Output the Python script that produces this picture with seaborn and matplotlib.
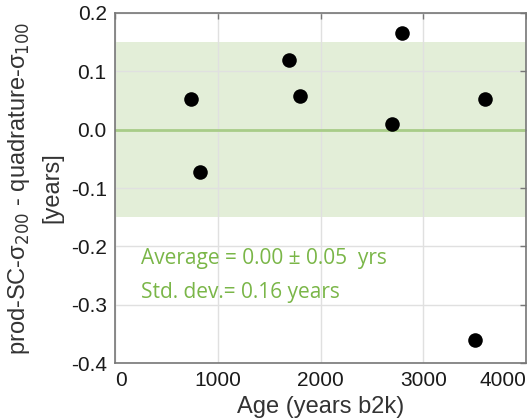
import matplotlib
matplotlib.use("Agg")
import matplotlib.pyplot as plt
import seaborn as sns
import pandas as pd

ages = [742, 832, 1696, 1796, 2699, 2793, 3499, 3599]
diffs = [0.053, -0.073, 0.119, 0.058, 0.010, 0.165, -0.361, 0.053]
band_halfwidth = 0.15
x_ticks = [0, 1000, 2000, 3000, 4000]
y_ticks = [0.2, 0.1, 0.0, -0.1, -0.2, -0.3, -0.4]
stat_lines = ["Average = 0.00 \u00b1 0.05  yrs", "Std. dev.= 0.16 years"]

sns.set_theme(style="whitegrid")
plt.rcParams['font.family'] = ['Liberation Sans', 'DejaVu Sans']

df = pd.DataFrame({"age": ages, "diff": diffs})

fig = plt.figure(figsize=(5.27, 4.19), dpi=100)
ax = fig.add_axes([115/527, 1 - 363/419, 411/527, 350/419])

ax.axhspan(-band_halfwidth, band_halfwidth, color="#e3eed8", zorder=0.5, lw=0)
ax.axhline(0, color="#a8cc88", lw=2, zorder=1)
sns.scatterplot(data=df, x="age", y="diff", ax=ax, color="black", s=110,
                edgecolor="black", linewidth=0, zorder=3, legend=False)

ax.set_xlim(0, 4000)
ax.set_ylim(-0.4, 0.2)
ax.set_xticks(x_ticks)
ax.set_yticks(y_ticks)
ax.set_yticklabels([f"{v:.1f}" for v in y_ticks])
ax.grid(True, color="#e0e0e0", lw=1)
ax.set_axisbelow(True)
for s in ax.spines.values():
    s.set_color("#777777")
    s.set_linewidth(1.2)
ax.tick_params(axis="both", direction="in", length=4, width=1, color="#777777",
               labelsize=15, labelcolor="#1a1a1a", top=True, right=True, pad=6)
labels = ax.get_xticklabels()
labels[0].set_ha("left")
labels[-1].set_ha("right")

ax.set_xlabel("Age (years b2k)", fontsize=17, color="#333333", labelpad=4)
ax.set_ylabel("prod-SC-\u03c3$_{200}$ - quadrature-\u03c3$_{100}$\n[years]",
              fontsize=17, color="#333333", linespacing=1.6, labelpad=5)

for i, t in enumerate(stat_lines):
    ax.text(0.063, 0.298 - i * 0.097, t, transform=ax.transAxes, color="#7ab648",
            fontsize=15, family=["Open Sans", "DejaVu Sans"], va="center", ha="left")

fig.savefig("out.png", dpi=100)
